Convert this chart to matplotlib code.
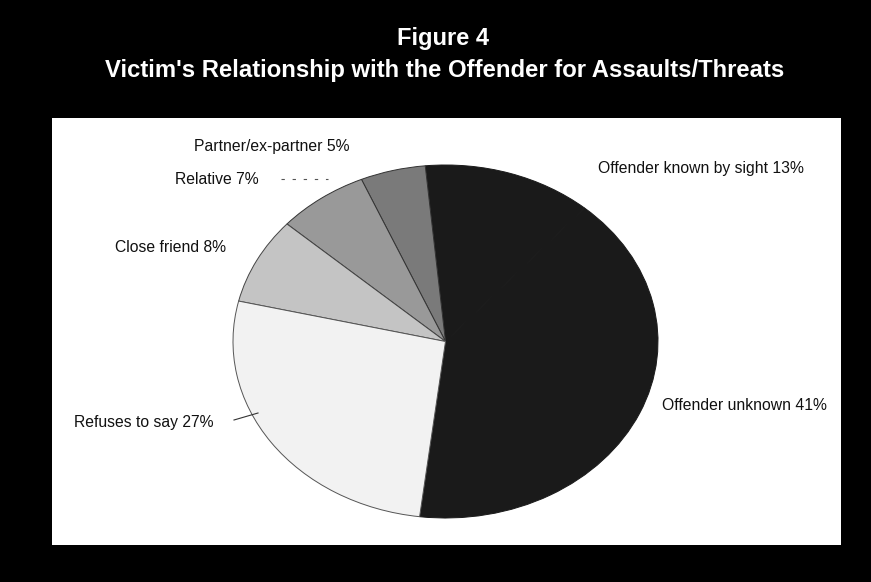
import matplotlib
matplotlib.use("Agg")
import matplotlib.pyplot as plt
from matplotlib.patches import Rectangle
from matplotlib.lines import Line2D

# ---- data ----
categories = ["Offender unknown", "Offender known by sight", "Partner/ex-partner",
              "Relative", "Close friend", "Refuses to say"]
values = [41, 13, 5, 7, 8, 27]
label_texts = ["Offender unknown 41%", "Offender known by sight 13%", "Partner/ex-partner 5%",
               "Relative 7%", "Close friend 8%", "Refuses to say 27%"]
title_line1 = "Figure 4"
title_line2 = "Victim's Relationship with the Offender for Assaults/Threats"

colors = ["#1a1a1a", "#1a1a1a", "#7a7a7a", "#999999", "#c4c4c4", "#f2f2f2"]
edges = ["#1a1a1a", "#1a1a1a", "#333333", "#333333", "#444444", "#555555"]

W, H = 871, 582
fig = plt.figure(figsize=(W / 100, H / 100), dpi=100, facecolor="black")

def fx(x):
    return x / W

def fy(y):
    return 1 - y / H

# white panel
fig.patches.append(Rectangle((fx(52), fy(545)), fx(841) - fx(52), fy(118) - fy(545),
                             transform=fig.transFigure, facecolor="white",
                             edgecolor="none", zorder=-5))

# titles
fig.text(fx(443), fy(38), title_line1, color="white", fontsize=17, fontweight="bold",
         family="Liberation Sans", ha="center", va="center")
fig.text(fx(445), fy(71), title_line2, color="white", fontsize=17.2, fontweight="bold",
         family="Liberation Sans", ha="center", va="center")

# pie axes (elliptical)
left, right, top, bottom = 233, 658, 165, 518
ax = fig.add_axes([fx(left), fy(bottom), fx(right) - fx(left), fy(top) - fy(bottom)])
ax.set_zorder(2)
ax.set_facecolor("none")
wedges, _ = ax.pie(values, colors=colors, startangle=-97, counterclock=True, radius=1,
                   wedgeprops=dict(linewidth=0.7))
for w, ec in zip(wedges, edges):
    w.set_edgecolor(ec)
ax.set_aspect("auto")
ax.set_xlim(-1, 1)
ax.set_ylim(-1, 1)
ax.axis("off")

# labels
lab_pos = {
    "Offender unknown 41%": (744, 406),
    "Offender known by sight 13%": (701, 168),
    "Partner/ex-partner 5%": (272, 146),
    "Relative 7%": (217, 179),
    "Close friend 8%": (170, 247),
    "Refuses to say 27%": (144, 422),
}
for t in label_texts:
    x, y = lab_pos[t]
    fig.text(fx(x), fy(y), t, color="#111111", fontsize=11.3, family="Liberation Sans",
             ha="center", va="center", zorder=3)

# leader marks
fig.lines.append(Line2D([fx(281), fx(328)], [fy(179), fy(179)], transform=fig.transFigure,
                        color="#555555", linewidth=0.8, linestyle=(0, (3, 7)), zorder=3))
fig.lines.append(Line2D([fx(234), fx(258)], [fy(420), fy(413)], transform=fig.transFigure,
                        color="#333333", linewidth=0.8, zorder=3))

fig.savefig("out.png", dpi=100, facecolor="black")
